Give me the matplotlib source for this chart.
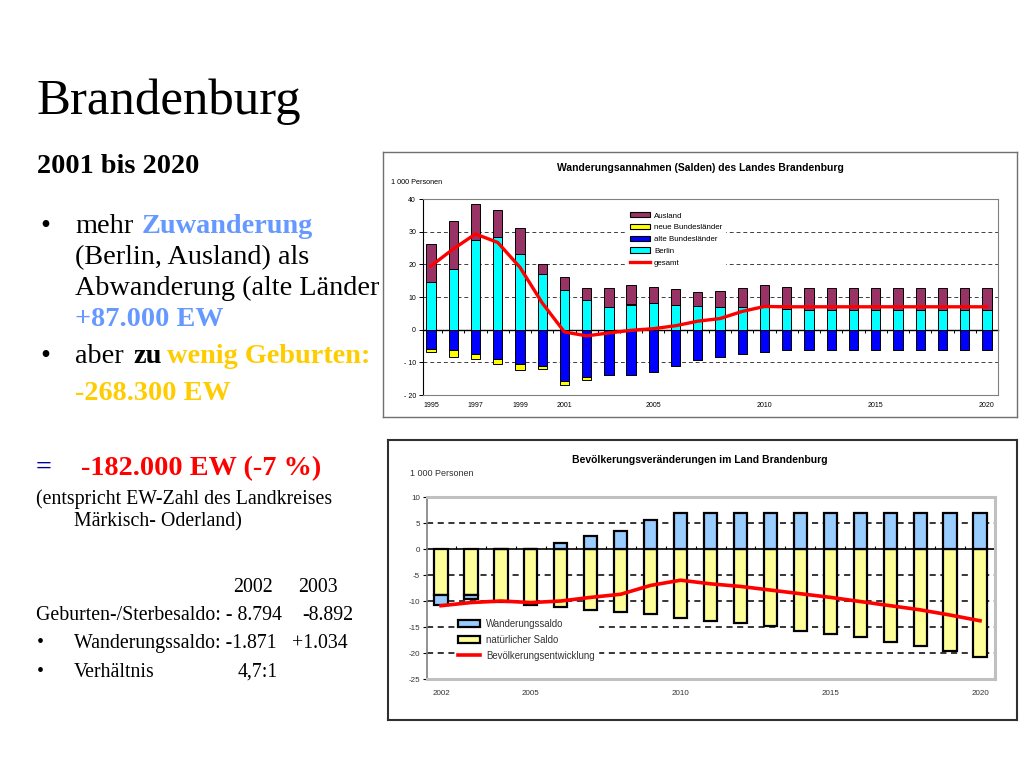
import numpy as np
import matplotlib
matplotlib.use("Agg")
import matplotlib.pyplot as plt
from matplotlib.patches import Patch
from matplotlib.lines import Line2D
from matplotlib.transforms import Bbox, TransformedBbox

# --- chart 1: Wanderungssalden (1 000 Personen) ---
years1 = list(range(1995, 2021))
berlin = [14.5, 18.7, 27.3, 28.5, 23.2, 17.0, 12.2, 9.2, 7.0, 7.6, 8.1, 7.6, 7.3,
          6.9, 7.0, 7.2, 6.4, 6.1, 6.1, 6.1, 6.1, 6.1, 6.1, 6.1, 6.1, 6.1]
ausland = [11.6, 14.5, 11.2, 8.2, 8.0, 3.2, 3.8, 3.7, 5.9, 5.8, 5.1, 4.7, 4.2,
           5.0, 5.7, 6.5, 6.8, 6.7, 6.7, 6.7, 6.7, 6.7, 6.7, 6.7, 6.7, 6.7]
alte = [-5.8, -6.1, -7.3, -9.1, -10.6, -11.2, -15.8, -14.5, -14.0, -14.0, -13.1, -11.2, -9.4,
        -8.5, -7.3, -6.9, -6.2, -6.1, -6.1, -6.1, -6.1, -6.1, -6.1, -6.1, -6.1, -6.1]
neue = [-1.0, -2.2, -1.8, -1.3, -1.7, -0.9, -1.0, -0.8, 0.0, 0.4, 0.0, 0.0, 0.0,
        0.0, 0.0, 0.0, 0.0, 0.0, 0.0, 0.0, 0.0, 0.0, 0.0, 0.0, 0.0, 0.0]
gesamt = [19.5, 24.7, 29.3, 26.7, 19.1, 8.2, -0.7, -1.9, -1.0, -0.2, 0.3, 1.2, 2.6,
          3.4, 5.6, 7.1, 7.0, 7.0, 7.0, 7.0, 7.0, 7.0, 7.0, 7.0, 7.0, 7.0]
xlabels1 = [1995, 1997, 1999, 2001, 2005, 2010, 2015, 2020]
yticks1 = [40, 30, 20, 10, 0, -10, -20]
ylabels1 = ["40", "30", "20", "10", "0", "- 10", "- 20"]

# --- chart 2: Bevoelkerungsveraenderungen (1 000 Personen) ---
years2 = list(range(2002, 2021))
natuerlich = [-8.8, -8.9, -10.2, -10.7, -11.2, -11.8, -12.2, -12.5, -13.2, -13.8,
              -14.2, -14.9, -15.8, -16.3, -17.0, -17.9, -18.7, -19.7, -20.8]
wanderung = [-1.9, -0.8, 0.0, 0.0, 1.2, 2.5, 3.5, 5.6, 7.0, 7.0,
             7.0, 7.0, 7.0, 7.0, 7.0, 7.0, 7.0, 7.0, 7.0]
entwicklung = [-10.9, -10.3, -10.0, -10.3, -10.0, -9.3, -8.7, -7.0, -6.0, -6.7,
               -7.2, -7.9, -8.6, -9.3, -10.1, -10.9, -11.7, -12.7, -13.8]
xlabels2 = [2002, 2005, 2010, 2015, 2020]
yticks2 = [10, 5, 0, -5, -10, -15, -20, -25]

W, H = 1024, 768
def fx(x):
    return x / W
def fy(y):
    return 1 - y / H

serif = "Liberation Serif"
sans = "Liberation Sans"

fig = plt.figure(figsize=(10.24, 7.68), dpi=100)
fig.patch.set_facecolor("white")

# slide text (below the chart boxes)
def st(x, y, s, size=20.3, color="black", weight="normal"):
    return fig.text(fx(x), fy(y), s, fontsize=size, color=color, fontweight=weight,
                    family=serif, va="baseline", ha="left", zorder=-1)

st(37, 114, "Brandenburg", size=36.6)
st(37, 173, "2001 bis 2020", weight="bold")
st(40, 233, "•")
st(75, 233, "mehr")
st(142, 233, "Zuwanderung", color="#6699FF", weight="bold")
st(75, 264, "(Berlin, Ausland) als")
t = st(75, 295, "Abwanderung (alte Länder)")
# the chart box hides the end of this line
t.set_clip_box(TransformedBbox(Bbox([[0, 0], [fx(379), 1]]), fig.transFigure))
t.set_clip_on(True)
st(75, 326, "+87.000 EW", color="#6699FF", weight="bold")
st(40, 363, "•")
st(75, 363, "aber")
st(133, 363, "zu", weight="bold")
st(167, 363, "wenig Geburten:", color="#FFCC00", weight="bold")
st(75, 400, "-268.300 EW", color="#FFCC00", weight="bold")
st(36, 475, "=", color="#000099", weight="bold")
st(81, 475, "-182.000 EW (-7 %)", color="red", weight="bold")
st(36, 504, "(entspricht EW-Zahl des Landkreises", size=14.3)
st(74, 526, "Märkisch- Oderland)", size=14.3)
st(233, 592, "2002", size=14.3)
st(298, 592, "2003", size=14.3)
st(36, 620, "Geburten-/Sterbesaldo: - 8.794", size=14.3)
st(302, 620, "-8.892", size=14.3)
st(37, 648, "•", size=14.3)
st(74, 648, "Wanderungssaldo: -1.871", size=14.3)
st(292, 648, "+1.034", size=14.3)
st(37, 677, "•", size=14.3)
st(74, 677, "Verhältnis", size=14.3)
st(238, 677, "4,7:1", size=14.3)

def box(x0, y0, x1, y1, ec, lw):
    b = fig.add_axes([fx(x0), fy(y1), (x1 - x0) / W, (y1 - y0) / H])
    b.set_xticks([])
    b.set_yticks([])
    b.set_facecolor("white")
    for s in b.spines.values():
        s.set_color(ec)
        s.set_linewidth(lw)
    return b

# ================= chart 1 =================
box(383, 152, 1017, 417, "#707070", 1.0)
fig.text(fx(700), fy(168), "Wanderungsannahmen (Salden) des Landes Brandenburg",
         family=sans, fontsize=7.5, fontweight="bold", ha="center", va="center")
fig.text(fx(391), fy(182), "1 000 Personen", family=sans, fontsize=5.2,
         ha="left", va="center")

ax1 = fig.add_axes([fx(423), fy(395), (998 - 423) / W, (395 - 199) / H])
ax1.set_facecolor("white")
y1 = np.array(years1)
b = np.array(berlin)
a = np.array(ausland)
al = np.array(alte)
ne = np.array(neue)
ne_pos = np.where(ne > 0, ne, 0)
ne_neg = np.where(ne < 0, ne, 0)
bw = 0.42
ekw = dict(edgecolor="black", linewidth=0.7, zorder=3)
ax1.bar(y1, b, bw, color="#00FFFF", **ekw)
ax1.bar(y1, ne_pos, bw, bottom=b, color="#FFFF00", **ekw)
ax1.bar(y1, a, bw, bottom=b + ne_pos, color="#993366", **ekw)
ax1.bar(y1, al, bw, color="#0000FF", **ekw)
ax1.bar(y1, ne_neg, bw, bottom=al, color="#FFFF00", **ekw)
ax1.plot(y1, gesamt, color="#FF0000", lw=2.4, zorder=5, solid_joinstyle="round")
for g in [30, 20, 10, -10]:
    ax1.axhline(g, color="#404040", lw=0.7, dashes=(4, 3), zorder=1)
ax1.set_xlim(1994.64, 2020.5)
ax1.set_ylim(-20, 40)
ax1.set_yticks(yticks1)
ax1.set_yticklabels(ylabels1)
ax1.set_xticks(xlabels1)
ax1.set_xticklabels([str(v) for v in xlabels1])
ax1.tick_params(axis="x", length=0, pad=5, labelsize=5)
ax1.tick_params(axis="y", length=3, width=0.7, pad=2, labelsize=5)
for s in ax1.spines.values():
    s.set_color("#808080")
    s.set_linewidth(0.8)
ax1.spines["left"].set_color("black")
for lab in ax1.get_xticklabels() + ax1.get_yticklabels():
    lab.set_family(sans)
z1 = ax1.secondary_xaxis(1 / 3)
z1.set_xticks(np.arange(1994.5, 2021, 1.0))
z1.set_xticklabels([])
z1.tick_params(direction="out", length=2.5, width=0.7)
z1.spines["bottom"].set_linewidth(1.0)
z1.spines["top"].set_linewidth(1.0)
h1 = [Patch(facecolor="#993366", edgecolor="black", lw=0.8, label="Ausland"),
      Patch(facecolor="#FFFF00", edgecolor="black", lw=0.8, label="neue Bundesländer"),
      Patch(facecolor="#0000FF", edgecolor="black", lw=0.8, label="alte Bundesländer"),
      Patch(facecolor="#00FFFF", edgecolor="black", lw=0.8, label="Berlin"),
      Line2D([0], [0], color="#FF0000", lw=2.4, label="gesamt")]
leg1 = ax1.legend(handles=h1, loc="upper left", bbox_to_anchor=(0.355, 0.945),
                  frameon=True, fancybox=False, edgecolor="white", framealpha=1,
                  prop={"family": sans, "size": 5.7}, handlelength=2.6,
                  handleheight=0.65, labelspacing=0.55, handletextpad=0.5,
                  borderpad=0.3, borderaxespad=0)
leg1.set_zorder(6)

# ================= chart 2 =================
box(388, 440, 1017, 720, "#303030", 1.5)
fig.text(fx(700), fy(460), "Bevölkerungsveränderungen im Land Brandenburg",
         family=sans, fontsize=7.5, fontweight="bold", ha="center", va="center")
fig.text(fx(410), fy(473), "1 000 Personen", family=sans, fontsize=6.5,
         ha="left", va="center", color="#333333")

ax2 = fig.add_axes([fx(427), fy(679), (995 - 427) / W, (679 - 497) / H])
ax2.set_facecolor("white")
y2 = np.array(years2)
n = np.array(natuerlich)
w = np.array(wanderung)
w_bottom = np.where(w < 0, n, 0)
bw2 = 0.44
ekw2 = dict(edgecolor="black", linewidth=1.6, zorder=3)
ax2.bar(y2, n, bw2, color="#FFFF99", **ekw2)
ax2.bar(y2, w, bw2, bottom=w_bottom, color="#99CCFF", **ekw2)
ax2.plot(y2, entwicklung, color="#FF0000", lw=2.6, zorder=5)
for g in [5, -5, -10, -15, -20]:
    ax2.axhline(g, color="black", lw=1.1, dashes=(4, 3), zorder=1)
ax2.set_xlim(2001.53, 2020.5)
ax2.set_ylim(-25, 10)
ax2.set_yticks(yticks2)
ax2.set_yticklabels([str(v) for v in yticks2])
ax2.set_xticks(xlabels2)
ax2.set_xticklabels([str(v) for v in xlabels2])
ax2.tick_params(axis="x", length=0, pad=8, labelsize=5.8)
ax2.tick_params(axis="y", length=3, width=0.8, pad=2, labelsize=5.8)
for s in ax2.spines.values():
    s.set_color("#C0C0C0")
    s.set_linewidth(2.2)
ax2.spines["left"].set_color("#808080")
ax2.spines["left"].set_linewidth(1.2)
for lab in ax2.get_xticklabels() + ax2.get_yticklabels():
    lab.set_family(sans)
    lab.set_color("#333333")
z2 = ax2.secondary_xaxis(5 / 7)
z2.set_xticks(np.arange(2001.5, 2021, 1.0))
z2.set_xticklabels([])
z2.tick_params(direction="out", length=2.5, width=0.8)
z2.spines["bottom"].set_linewidth(1.2)
z2.spines["top"].set_linewidth(1.2)
h2 = [Patch(facecolor="#99CCFF", edgecolor="black", lw=1.6, label="Wanderungssaldo"),
      Patch(facecolor="#FFFF99", edgecolor="black", lw=1.6, label="natürlicher Saldo"),
      Line2D([0], [0], color="#FF0000", lw=2.6, label="Bevölkerungsentwicklung")]
leg2 = ax2.legend(handles=h2, loc="upper left", bbox_to_anchor=(0.05, 0.345),
                  frameon=True, fancybox=False, edgecolor="white", framealpha=1,
                  prop={"family": sans, "size": 6.9}, handlelength=2.3,
                  handleheight=0.7, labelspacing=0.6, handletextpad=0.6,
                  borderpad=0.3, borderaxespad=0)
for t2 in leg2.get_texts():
    t2.set_color("#333333")
leg2.set_zorder(6)

fig.savefig("out.png", dpi=100)
